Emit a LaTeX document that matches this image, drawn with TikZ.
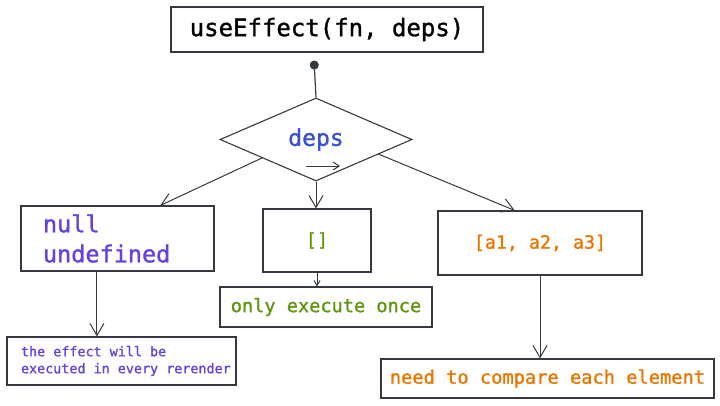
\documentclass[tikz,border=0pt]{standalone}
\usepackage{fontspec}
\setmonofont[FakeBold=1.2]{DejaVu Sans Mono}
\usetikzlibrary{shapes.geometric,arrows.meta,calc}
\definecolor{ink}{RGB}{52,58,64}
\definecolor{cpurple}{RGB}{103,65,217}
\definecolor{cgreen}{RGB}{95,150,15}
\definecolor{corange}{RGB}{232,119,0}
\definecolor{cblue}{RGB}{59,80,210}
\tikzset{
  box/.style={draw=ink, line width=1.1pt, rectangle, inner sep=0pt, font=\ttfamily},
  arr/.style={draw=ink, line width=1pt, -{Straight Barb[length=12pt,width=14pt]}},
  arrsmall/.style={draw=ink, line width=1pt, -{Straight Barb[length=5pt,width=6pt]}},
}
\begin{document}
\begin{tikzpicture}[x=1pt,y=-1pt]
\useasboundingbox[fill=white] (0,0) rectangle (720,405);
% nodes
\node[box, minimum width=312pt, minimum height=45pt, font=\ttfamily\fontsize{24}{28}\selectfont] (top) at (327,29.5) {useEffect(fn, deps)};
\node[draw=ink, line width=1.1pt, diamond, aspect=2.31, minimum width=192pt, minimum height=83pt, inner sep=0pt, text=cblue, font=\ttfamily\fontsize{23}{27}\selectfont] (dia) at (316,139.5) {deps};
\node[box, minimum width=193pt, minimum height=65pt, text width=160pt, align=left, text=cpurple, font=\ttfamily\fontsize{23.5}{30}\selectfont] (null) at (117.5,238.5) {\hspace*{5.5pt}null\\\hspace*{5.5pt}undefined};
\node[box, minimum width=108pt, minimum height=63pt, text=cgreen, font=\ttfamily\fontsize{18.5}{22}\selectfont] (mid) at (317,240.5) {[]};
\node[box, minimum width=204pt, minimum height=64pt, text=corange, font=\ttfamily\fontsize{18.3}{22}\selectfont] (abox) at (540,243) {[a1, a2, a3]};
\node[box, minimum width=212pt, minimum height=40pt, text=cgreen, font=\ttfamily\fontsize{18.6}{22}\selectfont] (once) at (326,307) {only execute once};
\node[box, minimum width=229pt, minimum height=48pt, text width=224pt, align=left, text=cpurple, font=\ttfamily\fontsize{13.4}{17}\selectfont] (effect) at (121.5,361) {\spaceskip=0pt\xspaceskip=0pt\relax\hspace*{11.5pt}the effect will be\\\hspace*{11.5pt}executed in every rerender};
\node[box, minimum width=333pt, minimum height=39pt, text=corange, font=\ttfamily\fontsize{18.7}{22}\selectfont] (need) at (547.5,378.5) {need to compare each element};
% connectors
\draw[draw=ink, line width=1.2pt, {Circle[length=9pt]}-] ([xshift=-13pt,yshift=-8pt]top.south) -- (dia.north);
\draw[arr] ($(dia.west)!0.44!(dia.south)$) -- ($(null.north west)!0.72!(null.north east)$);
\draw[arr] (dia.south) -- (dia.south |- mid.north);
\draw[arr] ($(dia.east)!0.35!(dia.south)$) -- ($(abox.north west)!0.377!(abox.north east)$);
\draw[arrsmall] (mid.south) -- (mid.south |- once.north);
\draw[arr] ($(null.south west)!0.394!(null.south east)$) coordinate (n1) -- (n1 |- effect.north);
\draw[arr] (abox.south) -- (abox.south |- need.north);
\draw[draw=ink, line width=1pt, -{Straight Barb[length=6pt,width=8pt]}] ([xshift=-10pt,yshift=-26.5pt]dia.center) -- ++(34pt,0);
\end{tikzpicture}
\end{document}
